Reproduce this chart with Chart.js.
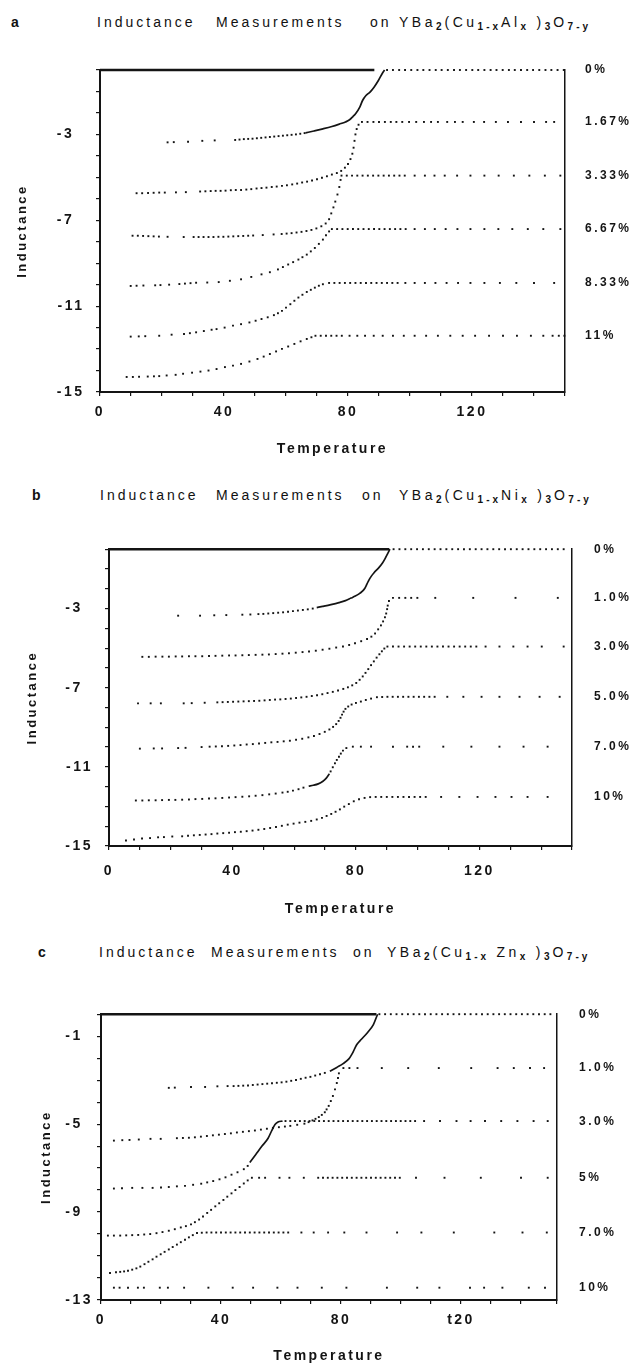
<!DOCTYPE html>
<html>
<head>
<meta charset="utf-8">
<script src="https://cdn.jsdelivr.net/npm/chart.js@4.4.1/dist/chart.umd.min.js"></script>
<style>
  body { margin: 0; background: #fff; }
  #page { position: relative; width: 635px; height: 1365px; overflow: hidden;
          font-family: 'Liberation Sans', Arial, sans-serif; color: #111; }
  canvas { position: absolute; left: 0; }
  .t { position: absolute; font-size: 14px; line-height: 16px; letter-spacing: 3px; white-space: nowrap; }
  .t.f { letter-spacing: 3.5px; }
  .t sub { font-size: 10px; line-height: 0; vertical-align: -3px; letter-spacing: 3px; font-weight: bold; }
  .lt { position: absolute; font-size: 14px; line-height: 16px; font-weight: bold; }
</style>
</head>
<body>
<div id="page">
  <div class="lt" style="left:11px;top:14px">a</div>
  <div class="t" style="left:97px;top:14px">Inductance</div>
  <div class="t" style="left:216px;top:14px">Measurements</div>
  <div class="t" style="left:370px;top:14px">on</div>
  <div class="t f" style="left:399px;top:14px">YBa<sub>2</sub>(Cu<sub>1-x</sub>Al<sub>x</sub> )<sub>3</sub>O<sub>7-y</sub></div>

  <div class="lt" style="left:32px;top:487px">b</div>
  <div class="t" style="left:100px;top:487px">Inductance</div>
  <div class="t" style="left:216px;top:487px">Measurements</div>
  <div class="t" style="left:362px;top:487px">on</div>
  <div class="t f" style="left:399px;top:487px">YBa<sub>2</sub>(Cu<sub>1-x</sub>Ni<sub>x</sub> )<sub>3</sub>O<sub>7-y</sub></div>

  <div class="lt" style="left:38px;top:944px">c</div>
  <div class="t" style="left:99px;top:944px">Inductance</div>
  <div class="t" style="left:211px;top:944px">Measurements</div>
  <div class="t" style="left:353px;top:944px">on</div>
  <div class="t f" style="left:387px;top:944px">YBa<sub>2</sub>(Cu<sub>1-x</sub> Zn<sub>x</sub> )<sub>3</sub>O<sub>7-y</sub></div>

  <canvas id="chartA" width="635" height="418" style="top:40px"></canvas>
  <canvas id="chartB" width="635" height="398" style="top:520px"></canvas>
  <canvas id="chartC" width="635" height="380" style="top:985px"></canvas>
</div>
<script>
// tick labels shared by the three panels
const xTicks = [0, 40, 80, 120];
const xTextAB = ['0', '40', '80', '120'];
const xTextC = ['0', '40', '80', 't20'];

// ---------- a : YBa2(Cu1-xAlx)3O7-y ----------
const aNames = ['0%', '1.67%', '3.33%', '6.67%', '8.33%', '11%'];
const aLevels = [0, -2.42, -4.92, -7.41, -9.92, -12.38];
const aYLabels = [-3, -7, -11, -15];
const aTop = [[0, 0], [88.5, 0]];
const a0 = [[21.8,-3.37],[23.8,-3.36],[28.4,-3.34],[33,-3.3],[37,-3.28],[43.6,-3.26],[45,-3.24],[46.4,-3.22],[47.8,-3.21],[49.2,-3.2],[50.6,-3.18],[52,-3.16],[53.4,-3.14],[54.8,-3.12],[56.2,-3.1],[57.6,-3.08],[59,-3.06],[60.4,-3.04],[61.8,-3.02],[63.2,-3],[64.6,-2.97],[66,-2.94],
  [92.6,0],[94.5,0],[96.5,0],[98.4,0],[100.4,0],[102.4,0],[104.3,0],[106.3,0],[108.3,0],[110.2,0],[112.2,0],[114.2,0],[116.1,0],[118.1,0],[120.1,0],[122,0],[124,0],[126,0],[127.9,0],[129.9,0],[131.9,0],[133.8,0],[135.8,0],[137.8,0],[139.7,0],[141.7,0],[143.7,0],[145.6,0],[147.6,0],[149.6,0]];
const a0Line = [[66.3,-2.93],[69,-2.84],[71.9,-2.74],[74.8,-2.63],[77.2,-2.52],[79.2,-2.42],[80.5,-2.32],[81.6,-2.17],[82.5,-2.03],[83.8,-1.73],[84.7,-1.42],[85.8,-1.19],[87.1,-1.03],[88.4,-0.8],[89.8,-0.49],[91.1,-0.15],[91.8,0]];
const a1 = [[11.8,-5.74],[13.6,-5.74],[15.5,-5.73],[17.3,-5.72],[19.1,-5.71],[20.9,-5.71],[24.5,-5.7],[27.7,-5.69],[32.3,-5.66],[34,-5.65],[35.7,-5.64],[37.3,-5.63],[38.9,-5.63],[40.5,-5.62],[42.2,-5.6],[43.8,-5.59],[45.5,-5.59],[47.2,-5.57],[48.8,-5.55],[50.5,-5.52],[52.1,-5.5],[53.7,-5.48],[55.4,-5.45],[57,-5.43],[58.7,-5.4],[60.3,-5.37],[62,-5.33],[63.6,-5.29],[65.2,-5.24],[66.8,-5.2],[68.4,-5.15],[70,-5.09],[71.6,-5.02],[73.2,-4.95],[74.8,-4.87],[76.4,-4.8],[77.8,-4.7],[79,-4.55],[80,-4.38],[80.8,-4.15],[81.4,-3.9],[81.8,-3.62],[82.1,-3.3],[82.4,-3],[82.8,-2.75],[83.4,-2.55],
  [84.5,-2.42],[86.3,-2.42],[88.2,-2.42],[90,-2.42],[91.9,-2.42],[93.8,-2.42],[95.6,-2.42],[97.5,-2.42],[99.7,-2.42],[102,-2.42],[104.5,-2.42],[106.8,-2.42],[109,-2.42],[112,-2.42],[114.5,-2.42],[117,-2.42],[120.6,-2.42],[123.9,-2.42],[127.7,-2.42],[131.6,-2.42],[135.8,-2.42],[140,-2.42],[143.9,-2.42],[146.5,-2.42]];
const a2 = [[10.5,-7.72],[12.2,-7.72],[13.9,-7.73],[15.6,-7.74],[17.3,-7.75],[19,-7.76],[21.8,-7.77],[27,-7.78],[30.2,-7.78],[31.8,-7.78],[33.4,-7.78],[35,-7.78],[36.6,-7.78],[38.2,-7.77],[39.8,-7.77],[41.4,-7.76],[43,-7.75],[44.6,-7.74],[46.2,-7.73],[47.8,-7.72],[49.4,-7.71],[52.5,-7.69],[56,-7.66],[58.6,-7.64],[60.2,-7.62],[61.8,-7.6],[63.4,-7.57],[65,-7.54],[66.6,-7.5],[68.2,-7.45],[69.8,-7.38],[71.4,-7.28],[72.8,-7.15],[73.9,-6.95],[74.6,-6.68],[75.3,-6.4],[75.9,-6.13],[76.6,-5.8],[77.2,-5.45],[77.6,-5.12],
  [77.9,-4.92],[79.6,-4.92],[81.3,-4.92],[83,-4.92],[84.7,-4.92],[86.4,-4.92],[88.1,-4.92],[89.8,-4.92],[91.5,-4.92],[93.2,-4.92],[94.9,-4.92],[96.6,-4.92],[98.3,-4.92],[101.5,-4.92],[104.8,-4.92],[107.9,-4.92],[111.2,-4.92],[115.2,-4.92],[119.5,-4.92],[124,-4.92],[128.6,-4.92],[133.5,-4.92],[138.5,-4.92],[143.5,-4.92],[148.5,-4.92]];
const a3 = [[9.9,-10.06],[11.8,-10.05],[14,-10.04],[17.8,-10.03],[19.5,-10.02],[22.3,-10],[25.6,-9.97],[27.4,-9.95],[29.2,-9.93],[31,-9.91],[34.6,-9.9],[38.3,-9.88],[41.9,-9.82],[45.5,-9.75],[48.8,-9.64],[52.1,-9.52],[54.8,-9.42],[57.4,-9.29],[59,-9.18],[60.7,-9.06],[62.3,-8.95],[64,-8.83],[65.3,-8.72],[66.7,-8.6],[68,-8.45],[69.3,-8.29],[70.6,-8.1],[71.9,-7.9],[72.9,-7.7],[73.9,-7.52],
  [74.8,-7.41],[76.5,-7.41],[78.2,-7.41],[79.9,-7.41],[81.6,-7.41],[83.3,-7.41],[85,-7.41],[86.7,-7.41],[88.4,-7.41],[90.1,-7.41],[91.8,-7.41],[93.5,-7.41],[95.2,-7.41],[96.9,-7.41],[98.6,-7.41],[101.5,-7.41],[104.8,-7.41],[108,-7.41],[111.5,-7.41],[115.3,-7.41],[119.5,-7.41],[124,-7.41],[128.5,-7.41],[133,-7.41],[138,-7.41],[143,-7.41],[148.5,-7.41]];
const a4 = [[9.9,-12.42],[12.5,-12.41],[14.6,-12.4],[19.1,-12.38],[23.1,-12.33],[27.1,-12.3],[29,-12.26],[31,-12.22],[33.5,-12.16],[36,-12.1],[37.6,-12.07],[40.2,-12],[42.9,-11.91],[45.5,-11.84],[48.2,-11.76],[50.2,-11.68],[52.1,-11.6],[54.1,-11.52],[56.1,-11.42],[57.4,-11.33],[58.7,-11.22],[60,-11.07],[61.4,-10.91],[62.7,-10.75],[64,-10.6],[65.3,-10.47],[66.7,-10.34],[68,-10.24],[69.3,-10.14],[70.6,-10.05],[71.9,-9.98],
  [73.9,-9.92],[75.6,-9.92],[77.3,-9.92],[79,-9.92],[80.7,-9.92],[82.4,-9.92],[84.1,-9.92],[85.8,-9.92],[87.5,-9.92],[89.2,-9.92],[90.9,-9.92],[92.6,-9.92],[94.3,-9.92],[96,-9.92],[98.5,-9.92],[101.5,-9.92],[104.8,-9.92],[108.2,-9.92],[111.8,-9.92],[115.5,-9.92],[119.5,-9.92],[124,-9.92],[129,-9.92],[134.3,-9.92],[140,-9.92],[146.5,-9.92]];
const a5 = [[8.6,-14.3],[10.6,-14.3],[12.6,-14.29],[15.4,-14.28],[17.4,-14.27],[19.1,-14.26],[21.5,-14.23],[24.4,-14.2],[26.8,-14.15],[29.7,-14.1],[32.4,-14.05],[35,-14],[37.6,-13.93],[40.3,-13.84],[42.9,-13.77],[45.5,-13.69],[48.2,-13.58],[50.8,-13.46],[52.8,-13.35],[54.8,-13.23],[56.8,-13.11],[58.7,-12.99],[60.7,-12.88],[62.7,-12.76],[64.7,-12.64],[66.7,-12.53],[68.2,-12.45],
  [69.5,-12.38],[71.2,-12.38],[72.9,-12.38],[74.6,-12.38],[76.3,-12.38],[78,-12.38],[80.5,-12.38],[83,-12.38],[85.5,-12.38],[88.3,-12.38],[91.2,-12.38],[94.5,-12.38],[98,-12.38],[101.5,-12.38],[105.2,-12.38],[109,-12.38],[113,-12.38],[117,-12.38],[121,-12.38],[125.5,-12.38],[130,-12.38],[134.5,-12.38],[139,-12.38],[143,-12.38],[146,-12.38],[148,-12.38],[149.8,-12.38]];

// ---------- b : YBa2(Cu1-xNix)3O7-y ----------
const bNames = ['0%', '1.0%', '3.0%', '5.0%', '7.0%', '10%'];
const bLevels = [0, -2.46, -4.92, -7.46, -9.98, -12.52];
const bYLabels = [-3, -7, -11, -15];
const bTop = [[0, 0], [90.8, 0]];
const b0 = [[22.4,-3.36],[29.5,-3.36],[34.1,-3.34],[38,-3.33],[43.2,-3.31],[45.8,-3.3],[48.4,-3.28],[50,-3.27],[51.6,-3.25],[53.2,-3.23],[54.8,-3.21],[56.4,-3.19],[58,-3.16],[59.6,-3.13],[61.2,-3.1],[62.8,-3.07],[64.4,-3.04],[66,-3],
  [92.2,0],[94.1,0],[96,0],[97.9,0],[99.8,0],[101.7,0],[103.6,0],[105.5,0],[107.4,0],[109.3,0],[111.2,0],[113.1,0],[115,0],[116.9,0],[118.8,0],[120.7,0],[122.6,0],[124.5,0],[126.4,0],[128.3,0],[130.2,0],[132.1,0],[134,0],[135.9,0],[137.8,0],[139.7,0],[141.6,0],[143.5,0],[145.4,0],[147.3,0]];
const b0Line = [[67.3,-2.95],[69.2,-2.89],[71.9,-2.8],[74.5,-2.7],[76.6,-2.6],[78.4,-2.47],[79.8,-2.37],[81,-2.26],[82.1,-2.12],[82.9,-1.97],[83.6,-1.75],[84.2,-1.56],[85,-1.36],[85.8,-1.2],[87.5,-0.92],[88.6,-0.7],[89.4,-0.49],[90.2,-0.25],[91,0]];
const b1 = [[10.8,-5.44],[12.9,-5.44],[15.1,-5.43],[17.3,-5.43],[19.4,-5.43],[21.6,-5.42],[23.7,-5.42],[25.9,-5.41],[28,-5.41],[30.2,-5.41],[32.4,-5.4],[34.5,-5.39],[36.7,-5.38],[38.9,-5.37],[41,-5.37],[43.2,-5.36],[45.3,-5.35],[47.5,-5.34],[49.7,-5.33],[51.8,-5.32],[54,-5.3],[56.2,-5.28],[58.3,-5.26],[60.5,-5.23],[62.7,-5.2],[64.8,-5.17],[67,-5.13],[69.2,-5.08],[71.4,-5.03],[73.6,-4.97],[75.8,-4.92],[77.8,-4.84],[79.7,-4.75],[81.7,-4.65],[83.6,-4.54],[85,-4.42],[86.2,-4.26],[87.2,-4.05],[88.1,-3.85],[88.8,-3.65],[89.4,-3.44],[89.8,-3.25],[90.1,-3.03],[90.3,-2.85],[90.7,-2.62],
  [92,-2.46],[94,-2.46],[96,-2.46],[97.9,-2.46],[99.9,-2.46],[105.7,-2.46],[118,-2.46],[131.7,-2.46],[145.4,-2.46]];
const b2 = [[9.4,-7.79],[13.5,-7.79],[16.8,-7.79],[24.2,-7.79],[26.8,-7.78],[31,-7.76],[35.1,-7.74],[36.8,-7.73],[38.5,-7.72],[40.2,-7.71],[41.9,-7.7],[43.6,-7.69],[45.3,-7.68],[47,-7.67],[48.7,-7.66],[50.4,-7.64],[52.1,-7.62],[53.8,-7.6],[55.5,-7.59],[57.2,-7.57],[58.9,-7.55],[60.6,-7.52],[62.3,-7.49],[64,-7.46],[65.7,-7.42],[67.4,-7.38],[69.1,-7.33],[70.8,-7.27],[72.5,-7.21],[74.2,-7.14],[75.9,-7.06],[77.4,-6.98],[78.8,-6.88],[80.1,-6.76],[81.2,-6.6],[82.2,-6.43],[83.1,-6.25],[84,-6.06],[84.9,-5.86],[85.8,-5.67],[86.7,-5.48],[87.6,-5.31],[88.4,-5.16],[89.2,-5.02],
  [90.2,-4.92],[92,-4.92],[93.8,-4.92],[95.6,-4.92],[97.4,-4.92],[99.2,-4.92],[101,-4.92],[102.8,-4.92],[104.6,-4.92],[106.4,-4.92],[108.2,-4.92],[110,-4.92],[111.8,-4.92],[113.6,-4.92],[115.4,-4.92],[117.2,-4.92],[119,-4.92],[122,-4.92],[126.5,-4.92],[131,-4.92],[135.6,-4.92],[140.2,-4.92],[147.3,-4.92]];
const b3 = [[10,-10.08],[14.5,-10.07],[17.2,-10.07],[22.4,-10.05],[24.8,-10.04],[30,-10],[32.6,-9.98],[34.6,-9.97],[36.6,-9.96],[38.6,-9.94],[40.6,-9.92],[42.6,-9.9],[44.6,-9.87],[46.6,-9.85],[48.6,-9.82],[50.6,-9.79],[52.6,-9.76],[54.6,-9.74],[56.6,-9.71],[58.6,-9.68],[60.6,-9.63],[62.6,-9.58],[64.6,-9.51],[66.4,-9.44],[68.2,-9.34],[69.9,-9.23],[71.4,-9.11],[72.6,-8.98],[73.6,-8.84],[74.4,-8.68],[75,-8.52],[75.5,-8.36],[76,-8.21],[76.6,-8.07],[77.5,-7.95],[78.6,-7.85],[80,-7.77],[81.6,-7.7],[83.2,-7.62],[84.9,-7.55],
  [86.8,-7.48],[88.5,-7.47],[90.2,-7.46],[91.9,-7.46],[93.6,-7.46],[95.3,-7.46],[97,-7.46],[98.7,-7.46],[100.4,-7.46],[102.1,-7.46],[103.8,-7.46],[105.5,-7.46],[109.6,-7.46],[114.8,-7.46],[120.7,-7.46],[126.5,-7.46],[133,-7.46],[139.5,-7.46],[146,-7.46]];
const b4 = [[8.7,-12.7],[10.8,-12.7],[12.9,-12.69],[15.1,-12.69],[17.2,-12.68],[19.4,-12.67],[21.5,-12.67],[23.7,-12.66],[25.9,-12.65],[28,-12.63],[30.2,-12.62],[32.4,-12.6],[34.5,-12.59],[36.7,-12.57],[38.9,-12.55],[41,-12.53],[43.2,-12.51],[45.4,-12.49],[47.5,-12.46],[49.7,-12.43],[51.9,-12.39],[54,-12.35],[56.2,-12.3],[57.9,-12.26],[59.6,-12.2],[61.4,-12.13],[63,-12.05],
  [71.8,-11.23],[72.5,-11.02],[73.2,-10.82],[73.8,-10.65],[74.5,-10.49],[75.1,-10.33],[75.8,-10.18],[76.9,-10.05],
  [79,-9.98],[81.6,-9.98],[84.9,-9.98],[92,-9.98],[96.6,-9.98],[98.5,-9.98],[100.5,-9.98],[108.3,-9.98],[117.4,-9.98],[126.5,-9.98],[134.3,-9.98],[142.1,-9.98]];
const b4Line = [[64.7,-11.97],[66.2,-11.93],[67.8,-11.86],[69.2,-11.74],[70.4,-11.57],[71.4,-11.35]];
const b5 = [[5.5,-14.72],[8.1,-14.67],[10.7,-14.62],[13.3,-14.6],[15.9,-14.56],[17.8,-14.55],[20.5,-14.52],[23.7,-14.51],[25.6,-14.48],[27.5,-14.46],[29.4,-14.44],[31.3,-14.42],[33.2,-14.4],[35.1,-14.37],[37,-14.35],[38.9,-14.33],[40.8,-14.3],[42.7,-14.28],[44.6,-14.25],[46.5,-14.22],[48.4,-14.18],[50.3,-14.14],[52.2,-14.09],[54.1,-14.04],[56,-13.98],[57.9,-13.92],[59.8,-13.87],[61.7,-13.82],[63.6,-13.78],[65.5,-13.73],[67.3,-13.66],[69,-13.58],[70.5,-13.48],[72,-13.38],[73.4,-13.27],[74.8,-13.15],[76.2,-13.01],[77.7,-12.88],[79.3,-12.74],[81,-12.64],[82.8,-12.57],
  [84.6,-12.53],[86.4,-12.52],[88.2,-12.52],[90,-12.52],[91.8,-12.52],[93.6,-12.52],[95.4,-12.52],[97.2,-12.52],[99,-12.52],[100.8,-12.52],[102.6,-12.52],[107.6,-12.52],[113.5,-12.52],[119.4,-12.52],[125.2,-12.52],[130.4,-12.52],[135.6,-12.52],[142.1,-12.52]];

// ---------- c : YBa2(Cu1-xZnx)3O7-y ----------
const cNames = ['0%', '1.0%', '3.0%', '5%', '7.0%', '10%'];
const cLevels = [0, -2.45, -4.88, -7.42, -9.93, -12.44];
const cYLabels = [-1, -5, -9, -13];
const cTop = [[0, 0], [91.8, 0]];
const c0 = [[22.6,-3.35],[24.6,-3.34],[30,-3.31],[34.7,-3.31],[38.8,-3.28],[42.2,-3.27],[44.2,-3.27],[45.8,-3.26],[47.4,-3.25],[49,-3.24],[50.6,-3.22],[52.2,-3.2],[53.8,-3.18],[55.4,-3.16],[57,-3.14],[58.6,-3.12],[60.2,-3.1],[61.8,-3.07],[63.4,-3.03],[65,-2.99],[66.6,-2.94],[68.2,-2.89],[69.8,-2.85],[71.4,-2.79],[73,-2.73],[74.6,-2.67],
  [92.8,0],[94.7,0],[96.6,0],[98.5,0],[100.4,0],[102.3,0],[104.2,0],[106.1,0],[108,0],[109.9,0],[111.8,0],[113.7,0],[115.6,0],[117.5,0],[119.4,0],[121.3,0],[123.2,0],[125.1,0],[127,0],[128.9,0],[130.8,0],[132.7,0],[134.6,0],[136.5,0],[138.4,0],[140.3,0],[142.2,0],[144.1,0],[146,0],[147.9,0],[149.8,0]];
const c0Line = [[76.3,-2.6],[78.6,-2.42],[80.7,-2.25],[82.7,-2.02],[83.5,-1.85],[84.1,-1.7],[84.8,-1.5],[85.4,-1.36],[86.8,-1.14],[88.8,-0.84],[90.8,-0.47],[92.2,0]];
const c1 = [[4.3,-5.75],[7.1,-5.73],[9.5,-5.72],[12.6,-5.7],[16.5,-5.67],[19.9,-5.67],[25.3,-5.64],[27.3,-5.63],[29.3,-5.62],[31.3,-5.6],[33.3,-5.57],[35.3,-5.54],[37.3,-5.51],[39.3,-5.48],[41.3,-5.45],[43.3,-5.42],[45.3,-5.38],[47.3,-5.35],[49.3,-5.32],[51.3,-5.29],[53.3,-5.25],[55.3,-5.21],[57.3,-5.17],[59.3,-5.14],[61.3,-5.11],[63.1,-5.08],[65.4,-5.03],[67.8,-4.98],[69.2,-4.91],[70.5,-4.83],[71.5,-4.76],[72.6,-4.68],[73.6,-4.58],[74.6,-4.46],[75.2,-4.33],[75.9,-4.17],[76.6,-3.95],[77.3,-3.72],[78,-3.42],[78.6,-3.13],[79,-2.9],[79.3,-2.69],
  [80.8,-2.45],[82.8,-2.45],[85.5,-2.45],[93.6,-2.45],[102.4,-2.45],[112.6,-2.45],[123.4,-2.45],[132.2,-2.45],[137.6,-2.45],[143,-2.45],[147.7,-2.45]];
const c2 = [[4.3,-7.93],[7,-7.92],[10.4,-7.9],[13.8,-7.9],[17.2,-7.9],[20,-7.88],[22.6,-7.86],[25.3,-7.83],[28,-7.81],[30.7,-7.76],[33.4,-7.71],[35.4,-7.65],[37.4,-7.59],[39.5,-7.51],[41.5,-7.42],[43.5,-7.3],[45.5,-7.19],[47.6,-7.05],[48.9,-6.9],
  [61.5,-4.86],[63.1,-4.86],[64.7,-4.86],[66.3,-4.86],[67.9,-4.86],[69.5,-4.86],[71.1,-4.86],[72.7,-4.86],[74.3,-4.86],[75.9,-4.86],[77.5,-4.86],[79.1,-4.86],[80.7,-4.86],[82.3,-4.86],[83.9,-4.86],[85.5,-4.86],[87.1,-4.86],[88.7,-4.86],[90.3,-4.86],[91.9,-4.86],[93.5,-4.86],[95.1,-4.86],[96.7,-4.86],[98.3,-4.86],[99.9,-4.86],[101.5,-4.86],[103.1,-4.86],[104.7,-4.86],[107.7,-4.86],[113,-4.86],[118.5,-4.86],[123.2,-4.86],[128,-4.86],[133.4,-4.86],[138.8,-4.86],[144.2,-4.86],[148.9,-4.86]];
const c2Line = [[49.6,-6.75],[51.6,-6.38],[53.6,-6.01],[55.7,-5.64],[57,-5.27],[58,-5.02],[59,-4.9],[60.5,-4.86]];
const c3 = [[2.3,-10.07],[4.3,-10.07],[6.4,-10.07],[8.4,-10.06],[10.4,-10.05],[12.4,-10.04],[14.4,-10.02],[16.4,-10],[18.5,-9.96],[20.5,-9.91],[22.6,-9.85],[24.6,-9.78],[26.6,-9.7],[28.3,-9.64],[30,-9.56],[31.3,-9.46],[32.7,-9.34],[34,-9.2],[35.4,-9.04],[36.7,-8.9],[38.1,-8.74],[39.4,-8.6],[40.8,-8.45],[42.1,-8.3],[43.5,-8.15],[44.8,-8],[46.2,-7.86],[47.6,-7.7],[48.9,-7.56],
  [50.3,-7.44],[52.7,-7.44],[54.7,-7.44],[59.5,-7.44],[62.8,-7.44],[67.6,-7.44],[72.4,-7.44],[74,-7.44],[75.6,-7.44],[77.2,-7.44],[78.8,-7.44],[80.4,-7.44],[82,-7.44],[83.6,-7.44],[85.2,-7.44],[86.8,-7.44],[88.4,-7.44],[90,-7.44],[91.6,-7.44],[93.2,-7.44],[94.8,-7.44],[96.4,-7.44],[98,-7.44],[99.6,-7.44],[105,-7.44],[114.5,-7.44],[126.6,-7.44],[140,-7.44],[148.9,-7.44]];
const c4 = [[3,-11.77],[5,-11.74],[6.4,-11.72],[7.7,-11.7],[9,-11.67],[10.4,-11.62],[11.8,-11.56],[13.1,-11.48],[14.5,-11.37],[15.8,-11.26],[17.2,-11.15],[18.5,-11.03],[19.9,-10.92],[21.2,-10.81],[22.6,-10.7],[23.9,-10.59],[25.3,-10.48],[26.6,-10.37],[28,-10.26],[29.3,-10.15],[30.6,-10.05],
  [32,-9.95],[33.6,-9.94],[35.2,-9.93],[36.8,-9.93],[38.4,-9.93],[40,-9.93],[41.6,-9.93],[43.2,-9.93],[44.8,-9.93],[46.4,-9.93],[48,-9.93],[49.6,-9.93],[51.2,-9.93],[52.8,-9.93],[54.4,-9.93],[56,-9.93],[57.6,-9.93],[59.2,-9.93],[60.8,-9.93],[62.4,-9.93],[66.8,-9.93],[70.9,-9.93],[75.7,-9.93],[81.1,-9.93],[88.5,-9.93],[98.7,-9.93],[106.8,-9.93],[117.6,-9.93],[131.1,-9.93],[140.5,-9.93],[148.6,-9.93]];
const c5 = [[4.3,-12.44],[6.2,-12.44],[9,-12.44],[12.3,-12.44],[14.3,-12.44],[19.6,-12.44],[22.3,-12.44],[27.7,-12.44],[35.8,-12.44],[43.9,-12.44],[50.7,-12.44],[58.8,-12.44],[65.5,-12.44],[73.6,-12.44],[81.8,-12.44],[95.3,-12.44],[105.4,-12.44],[112.8,-12.44],[123,-12.44],[127.7,-12.44],[133.8,-12.44],[142.6,-12.44],[148,-12.44]];

const ink = '#141414';
const family = "'Liberation Sans', Arial, sans-serif";

// wide letter spacing as in the typewritten original
const spacing = {
  id: 'spacing',
  beforeLayout(chart) { chart.ctx.letterSpacing = '2.5px'; },
  beforeDraw(chart) { chart.ctx.letterSpacing = '2.5px'; }
};

function toXY(pts) { return pts.map(p => ({x: p[0], y: p[1]})); }

function dots(pts) {
  return { data: toXY(pts), showLine: false, pointStyle: 'rect', pointRadius: 1.35,
           pointBackgroundColor: ink, pointBorderWidth: 0, clip: false };
}

function solid(pts, w) {
  return { data: toXY(pts), showLine: true, borderColor: ink, borderWidth: w,
           pointRadius: 0, cubicInterpolationMode: 'monotone', clip: false };
}

function makeChart(id, p) {
  const datasets = [solid(p.top, 2.4)]
    .concat(p.lines.map(l => solid(l, 1.7)))
    .concat(p.series.map(dots));
  new Chart(document.getElementById(id), {
    type: 'scatter',
    data: { datasets: datasets },
    plugins: [spacing],
    options: {
      responsive: false,
      animation: false,
      events: [],
      layout: { padding: { top: p.padTop, left: 0, right: 0, bottom: 0 } },
      plugins: { legend: { display: false }, tooltip: { enabled: false } },
      scales: {
        x: {
          min: 0, max: p.xMax,
          border: { display: true, color: ink, width: 2 },
          grid: { drawOnChartArea: false, drawTicks: true, tickLength: 4, color: ink, lineWidth: 1.2 },
          ticks: {
            stepSize: 10, autoSkip: false, maxRotation: 0, padding: p.xPad, color: ink,
            font: { family: family, size: 14, weight: 'bold' },
            callback: v => { const i = xTicks.indexOf(v); return i < 0 ? '' : p.xText[i]; }
          },
          title: { display: true, text: 'Temperature', color: ink, padding: 0,
                   font: { family: family, size: 14, weight: 'bold' } },
          afterFit: s => { s.height = p.bottomH; }
        },
        y: {
          min: p.yMin, max: 0,
          border: { display: true, color: ink, width: 2 },
          grid: { drawOnChartArea: false, drawTicks: true, tickLength: 4, color: ink, lineWidth: 1.2 },
          ticks: {
            stepSize: 1, autoSkip: false, padding: p.yPad, color: ink,
            font: { family: family, size: 14, weight: 'bold' },
            callback: v => p.yLabels.includes(v) ? (v > -10 ? v + '\u2007' : String(v)) : ''
          },
          title: { display: true, text: 'Inductance', color: ink, padding: { top: p.titleX, bottom: 0 },
                   font: { family: family, size: 13, weight: 'bold' } },
          afterFit: s => { s.width = p.leftW; }
        },
        y2: {
          position: 'right', min: p.yMin, max: 0,
          border: { display: true, color: ink, width: 1.5 },
          grid: { display: false, drawTicks: false },
          ticks: {
            autoSkip: false, padding: p.rPad, color: ink,
            font: { family: family, size: 12, weight: 'bold' },
            callback: (v, i) => p.names[i]
          },
          afterBuildTicks: s => { s.ticks = p.levels.map(v => ({ value: v })); },
          afterFit: s => { s.width = p.rightW; }
        }
      }
    }
  });
}

makeChart('chartA', {
  series: [a0, a1, a2, a3, a4, a5], lines: [a0Line], top: aTop,
  names: aNames, levels: aLevels, yLabels: aYLabels, yMin: -15, xMax: 150, xText: xTextAB,
  padTop: 30, bottomH: 66, leftW: 100, rightW: 70, xPad: 7.5, yPad: 11.5, titleX: 15, rPad: 20
});
makeChart('chartB', {
  series: [b0, b1, b2, b3, b4, b5], lines: [b0Line, b4Line], top: bTop,
  names: bNames, levels: bLevels, yLabels: bYLabels, yMin: -15, xMax: 150, xText: xTextAB,
  padTop: 21, bottomH: 72, leftW: 109, rightW: 63, xPad: 12.5, yPad: 12, titleX: 25, rPad: 22
});
makeChart('chartC', {
  series: [c0, c1, c2, c3, c4, c5], lines: [c0Line, c2Line], top: cTop,
  names: cNames, levels: cLevels, yLabels: cYLabels, yMin: -13, xMax: 152, xText: xTextC,
  padTop: 22, bottomH: 65, leftW: 101, rightW: 78, xPad: 7.5, yPad: 4, titleX: 39, rPad: 22
});
</script>
</body>
</html>
